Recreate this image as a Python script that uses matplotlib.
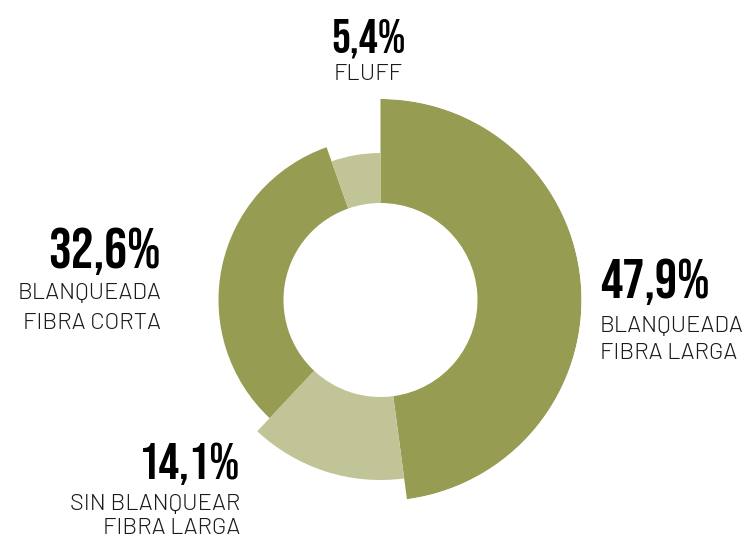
import matplotlib
matplotlib.use('Agg')
import matplotlib.pyplot as plt
import numpy as np

# datos del gráfico
shares = [47.9, 14.1, 32.6, 5.4]
pct_labels = ['47,9%', '14,1%', '32,6%', '5,4%']
names = ['BLANQUEADA\nFIBRA LARGA', 'SIN BLANQUEAR\nFIBRA LARGA', 'BLANQUEADA\nFIBRA CORTA', 'FLUFF']
outer_r = [201, 180, 162, 147]
inner_r = 97
colors = ['#969c52', '#c0c496', '#969c52', '#c0c496']

W, H = 752, 539
fig = plt.figure(figsize=(W / 100, H / 100), dpi=100)

# donut como barras polares (centro en 380.5, 300 px)
cx, cy, rmax = 380.5, 300, 201
ax = fig.add_axes([(cx - rmax) / W, (H - cy - rmax) / H, 2 * rmax / W, 2 * rmax / H],
                  projection='polar')
ax.set_theta_zero_location('N')
ax.set_theta_direction(-1)
widths = np.array(shares) / sum(shares) * 2 * np.pi
starts = np.concatenate([[0], np.cumsum(widths)[:-1]])
ax.bar(starts, np.array(outer_r) - inner_r, width=widths, bottom=inner_r,
       align='edge', color=colors, edgecolor='none', linewidth=0)
ax.set_ylim(0, rmax)
ax.axis('off')

# capa para textos en coordenadas de pixel
tx = fig.add_axes([0, 0, 1, 1])
tx.set_xlim(0, W)
tx.set_ylim(H, 0)
tx.axis('off')

num_font = dict(family=['Bebas Neue', 'DejaVu Sans'], color='black')
lab_font = dict(family=['Barlow', 'DejaVu Sans'], weight=300, color='#1a1a1a', fontsize=17)

# (x, y número, ha, y líneas, tamaño)
pos = [
    (600, 298, 'left', [332, 359], 40),
    (240, 479, 'right', [510, 534], 37),
    (161, 268, 'right', [299, 329], 41),
    (368.5, 52, 'center', [80], 34),
]

for (x, yn, ha, ylines, fs), p, n in zip(pos, pct_labels, names):
    tx.text(x, yn, p, ha=ha, va='baseline', fontsize=fs, **num_font)
    for yl, line in zip(ylines, n.split('\n')):
        tx.text(x, yl, line, ha=ha, va='baseline', **lab_font)

fig.savefig('out.png', dpi=100, facecolor='white')
